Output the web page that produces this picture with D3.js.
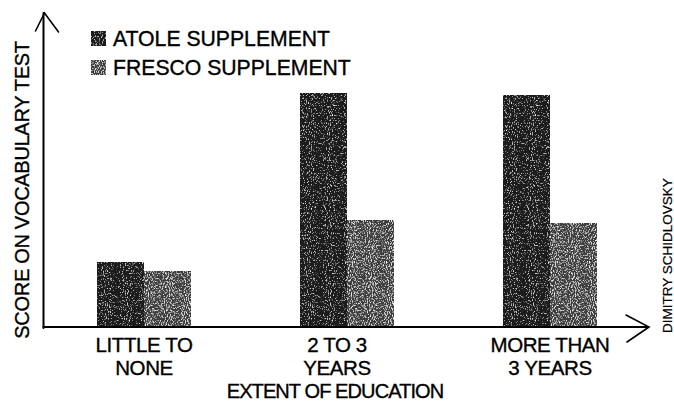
<!DOCTYPE html>
<html>
<head>
<meta charset="utf-8">
<script src="https://cdn.jsdelivr.net/npm/d3@7"></script>
<style>
  html, body { margin: 0; padding: 0; background: #fff; }
  svg { display: block; font-family: "Liberation Sans", Arial, Helvetica, sans-serif; }
  text { fill: #000; stroke: #000; stroke-width: 0.35px; }
</style>
</head>
<body>
<svg id="chart" width="674" height="402"></svg>
<script>
// ---- data ----
const categories = ["LITTLE TO|NONE", "2 TO 3|YEARS", "MORE THAN|3 YEARS"];
const seriesNames = ["ATOLE SUPPLEMENT", "FRESCO SUPPLEMENT"];
const atoleScores = [65, 234, 232];
const frescoScores = [56, 107, 104];
const yAxisTitle = "SCORE ON VOCABULARY TEST";
const xAxisTitle = "EXTENT OF EDUCATION";
const creditText = "DIMITRY SCHIDLOVSKY";

const seriesValues = [atoleScores, frescoScores];
const seriesFill = ["#1c1c1c", "#3e3e3e"];
// small hand-lettering offsets of the category labels (layout only)
const labelNudge = [0, -10, 0];

const svg = d3.select("#chart");
const defs = svg.append("defs");

// halftone-like grain filters
function grain(id, baseFreq, slope, intercept, seed) {
  const f = defs.append("filter").attr("id", id)
    .attr("x", 0).attr("y", 0).attr("width", 1).attr("height", 1)
    .attr("filterUnits", "objectBoundingBox");
  f.append("feTurbulence").attr("type", "fractalNoise")
    .attr("baseFrequency", baseFreq).attr("numOctaves", 2).attr("seed", seed).attr("result", "noise");
  f.append("feColorMatrix").attr("in", "noise").attr("type", "matrix")
    .attr("values", `0 0 0 0 1  0 0 0 0 1  0 0 0 0 1  ${slope} 0 0 0 ${intercept}`)
    .attr("result", "specks");
  f.append("feComposite").attr("in", "specks").attr("in2", "SourceGraphic")
    .attr("operator", "in").attr("result", "clipped");
  const m = f.append("feMerge");
  m.append("feMergeNode").attr("in", "SourceGraphic");
  m.append("feMergeNode").attr("in", "clipped");
}
grain("grain0", "0.95 0.6", 3.2, -1.85, 4);
grain("grain1", "0.95 0.6", 3.2, -1.6, 9);

// ---- scales ----
const baseline = 327;
const x0 = d3.scaleBand().domain(categories).range([42.5, 651.5])
  .paddingInner(0.537).paddingOuter(0.2685);
const x1 = d3.scaleBand().domain(d3.range(seriesNames.length)).range([0, x0.bandwidth()]);
const y = d3.scaleLinear().domain([0, 300]).range([baseline, baseline - 300]);

// ---- bars ----
const groups = svg.append("g").selectAll("g").data(categories).join("g")
  .attr("transform", d => `translate(${x0(d)},0)`);
groups.selectAll("rect")
  .data((d, i) => seriesValues.map((vals, s) => ({ s, v: vals[i] })))
  .join("rect")
  .attr("x", d => x1(d.s))
  .attr("width", x1.bandwidth())
  .attr("y", d => y(d.v))
  .attr("height", d => y(0) - y(d.v))
  .attr("fill", d => seriesFill[d.s])
  .attr("filter", d => `url(#grain${d.s})`);

// ---- axes (hand-drawn style arrows) ----
const axisG = svg.append("g").attr("stroke", "#000").attr("fill", "none")
  .attr("stroke-width", 2).attr("stroke-linecap", "round");
const yAxisX = 43.5;
axisG.append("line").attr("x1", yAxisX).attr("y1", baseline + 1).attr("x2", yAxisX).attr("y2", 13);
axisG.append("path").attr("stroke-width", 1.6)
  .attr("d", `M${yAxisX - 8},${31} L${yAxisX + 1},${13} L${yAxisX + 15},${32}`);
axisG.append("line").attr("x1", yAxisX).attr("y1", baseline).attr("x2", 648).attr("y2", baseline);
axisG.append("path").attr("stroke-width", 1.6)
  .attr("d", `M${626},${baseline - 12} L${649},${baseline} L${627},${baseline + 15}`);

// category labels via d3 axis
const xAxis = d3.axisBottom(x0).tickSize(0).tickPadding(0);
const xAxisG = svg.append("g").attr("transform", `translate(0,${baseline})`).call(xAxis);
xAxisG.select(".domain").remove();
xAxisG.selectAll(".tick text").each(function(d, i) {
  const t = d3.select(this);
  const lines = d.split("|");
  t.text(null)
    .attr("font-size", 20.5)
    .attr("font-family", "Liberation Sans, Arial, sans-serif")
    .attr("letter-spacing", "-0.4")
    .attr("dy", null).attr("y", 0);
  lines.forEach((ln, k) => {
    t.append("tspan").attr("x", labelNudge[i]).attr("y", 25 + k * 23).text(ln);
  });
});

// axis titles
svg.append("text")
  .attr("x", 335).attr("y", 398)
  .attr("text-anchor", "middle")
  .attr("font-size", 20).attr("letter-spacing", "-0.9")
  .text(xAxisTitle);

svg.append("text")
  .attr("transform", `translate(28.5,${(338 + 42) / 2}) rotate(-90)`)
  .attr("text-anchor", "middle")
  .attr("font-size", 20).attr("letter-spacing", "-0.3")
  .text(yAxisTitle);

// credit
svg.append("text")
  .attr("transform", `translate(672,333) rotate(-90)`)
  .attr("text-anchor", "start")
  .attr("font-size", 13.5)
  .style("stroke-width", "0.2px")
  .text(creditText);

// ---- legend ----
const legend = svg.append("g");
const legendRows = legend.selectAll("g").data(seriesNames).join("g")
  .attr("transform", (d, i) => `translate(91,${31 + i * 29})`);
legendRows.append("rect")
  .attr("width", 15).attr("height", 15)
  .attr("fill", (d, i) => seriesFill[i])
  .attr("filter", (d, i) => `url(#grain${i})`);
legendRows.append("text")
  .attr("x", 22).attr("y", 14.5)
  .attr("font-size", 21.2)
  .text(d => d);
</script>
</body>
</html>
